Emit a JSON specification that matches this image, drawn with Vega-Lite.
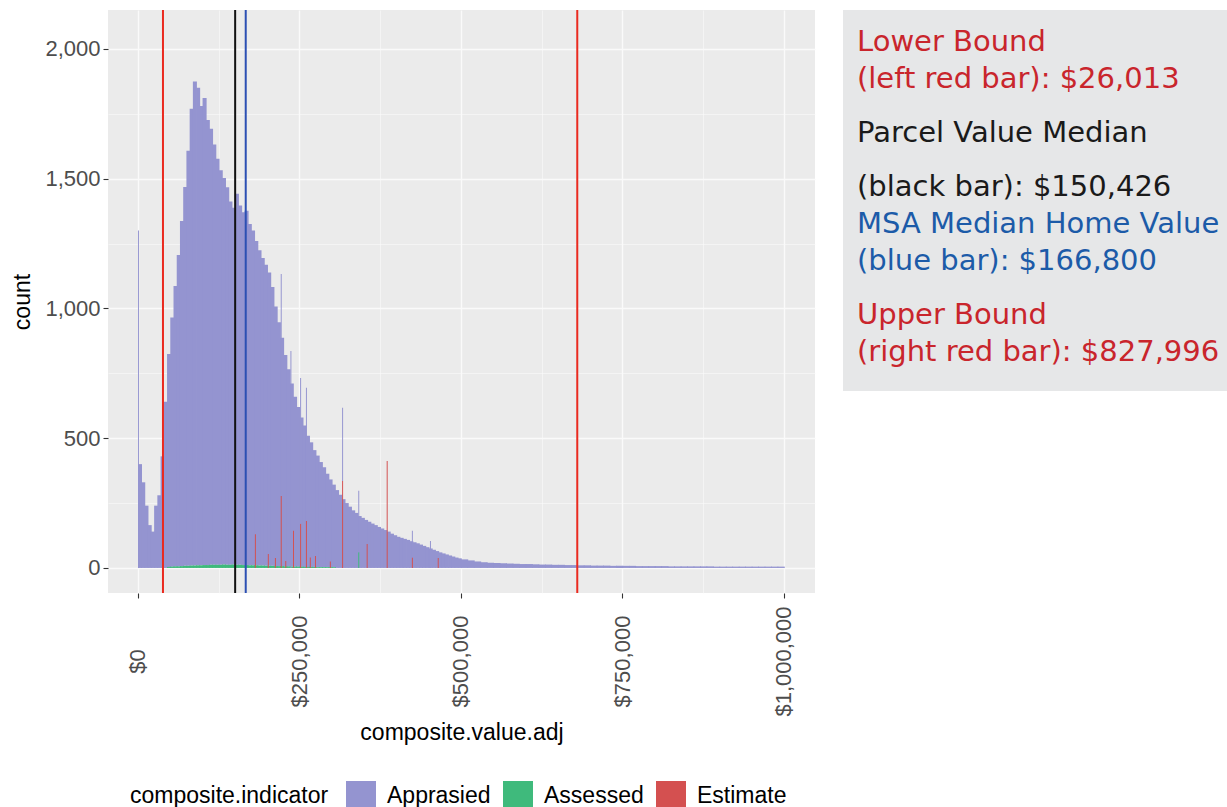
{
"$schema": "https://vega.github.io/schema/vega-lite/v6.json",
"padding": {"left": 11, "top": 9, "right": 0, "bottom": 0},
"background": "white",
"spacing": 28,
"config": {"font": "Liberation Sans", "view": {"stroke": null}},
"resolve": {"scale": {"color": "independent"}, "legend": {"color": "independent"}},
"datasets": {
"bins": [
{"indicator":"Apprasied","lo":0,"hi":5000,"count":400},{"indicator":"Apprasied","lo":5000,"hi":10000,"count":330},{"indicator":"Apprasied","lo":10000,"hi":15000,"count":240},{"indicator":"Apprasied","lo":15000,"hi":20000,"count":165},{"indicator":"Apprasied","lo":20000,"hi":25000,"count":140},{"indicator":"Apprasied","lo":25000,"hi":30000,"count":240},{"indicator":"Apprasied","lo":30000,"hi":35000,"count":280},{"indicator":"Apprasied","lo":35000,"hi":40000,"count":430},{"indicator":"Apprasied","lo":40000,"hi":45000,"count":640},{"indicator":"Apprasied","lo":45000,"hi":50000,"count":820},
{"indicator":"Apprasied","lo":50000,"hi":55000,"count":960},{"indicator":"Apprasied","lo":55000,"hi":60000,"count":1080},{"indicator":"Apprasied","lo":60000,"hi":65000,"count":1200},{"indicator":"Apprasied","lo":65000,"hi":70000,"count":1330},{"indicator":"Apprasied","lo":70000,"hi":75000,"count":1460},{"indicator":"Apprasied","lo":75000,"hi":80000,"count":1600},{"indicator":"Apprasied","lo":80000,"hi":85000,"count":1760},{"indicator":"Apprasied","lo":85000,"hi":90000,"count":1865},{"indicator":"Apprasied","lo":90000,"hi":95000,"count":1840},{"indicator":"Apprasied","lo":95000,"hi":100000,"count":1770},
{"indicator":"Apprasied","lo":100000,"hi":105000,"count":1800},{"indicator":"Apprasied","lo":105000,"hi":110000,"count":1715},{"indicator":"Apprasied","lo":110000,"hi":115000,"count":1680},{"indicator":"Apprasied","lo":115000,"hi":120000,"count":1620},{"indicator":"Apprasied","lo":120000,"hi":125000,"count":1565},{"indicator":"Apprasied","lo":125000,"hi":130000,"count":1520},{"indicator":"Apprasied","lo":130000,"hi":135000,"count":1490},{"indicator":"Apprasied","lo":135000,"hi":140000,"count":1455},{"indicator":"Apprasied","lo":140000,"hi":145000,"count":1400},{"indicator":"Apprasied","lo":145000,"hi":150000,"count":1375},
{"indicator":"Apprasied","lo":150000,"hi":155000,"count":1430},{"indicator":"Apprasied","lo":155000,"hi":160000,"count":1385},{"indicator":"Apprasied","lo":160000,"hi":165000,"count":1360},{"indicator":"Apprasied","lo":165000,"hi":170000,"count":1365},{"indicator":"Apprasied","lo":170000,"hi":175000,"count":1315},{"indicator":"Apprasied","lo":175000,"hi":180000,"count":1290},{"indicator":"Apprasied","lo":180000,"hi":185000,"count":1250},{"indicator":"Apprasied","lo":185000,"hi":190000,"count":1215},{"indicator":"Apprasied","lo":190000,"hi":195000,"count":1185},{"indicator":"Apprasied","lo":195000,"hi":200000,"count":1160},
{"indicator":"Apprasied","lo":200000,"hi":205000,"count":1130},{"indicator":"Apprasied","lo":205000,"hi":210000,"count":1075},{"indicator":"Apprasied","lo":210000,"hi":215000,"count":1000},{"indicator":"Apprasied","lo":215000,"hi":220000,"count":940},{"indicator":"Apprasied","lo":220000,"hi":225000,"count":880},{"indicator":"Apprasied","lo":225000,"hi":230000,"count":815},{"indicator":"Apprasied","lo":230000,"hi":235000,"count":760},{"indicator":"Apprasied","lo":235000,"hi":240000,"count":705},{"indicator":"Apprasied","lo":240000,"hi":245000,"count":655},{"indicator":"Apprasied","lo":245000,"hi":250000,"count":615},
{"indicator":"Apprasied","lo":250000,"hi":255000,"count":575},{"indicator":"Apprasied","lo":255000,"hi":260000,"count":545},{"indicator":"Apprasied","lo":260000,"hi":265000,"count":505},{"indicator":"Apprasied","lo":265000,"hi":270000,"count":480},{"indicator":"Apprasied","lo":270000,"hi":275000,"count":450},{"indicator":"Apprasied","lo":275000,"hi":280000,"count":430},{"indicator":"Apprasied","lo":280000,"hi":285000,"count":405},{"indicator":"Apprasied","lo":285000,"hi":290000,"count":385},{"indicator":"Apprasied","lo":290000,"hi":295000,"count":360},{"indicator":"Apprasied","lo":295000,"hi":300000,"count":338},
{"indicator":"Apprasied","lo":300000,"hi":305000,"count":318},{"indicator":"Apprasied","lo":305000,"hi":310000,"count":300},{"indicator":"Apprasied","lo":310000,"hi":315000,"count":282},{"indicator":"Apprasied","lo":315000,"hi":320000,"count":265},{"indicator":"Apprasied","lo":320000,"hi":325000,"count":250},{"indicator":"Apprasied","lo":325000,"hi":330000,"count":236},{"indicator":"Apprasied","lo":330000,"hi":335000,"count":222},{"indicator":"Apprasied","lo":335000,"hi":340000,"count":212},{"indicator":"Apprasied","lo":340000,"hi":345000,"count":200},{"indicator":"Apprasied","lo":345000,"hi":350000,"count":193},
{"indicator":"Apprasied","lo":350000,"hi":355000,"count":185},{"indicator":"Apprasied","lo":355000,"hi":360000,"count":178},{"indicator":"Apprasied","lo":360000,"hi":365000,"count":171},{"indicator":"Apprasied","lo":365000,"hi":370000,"count":165},{"indicator":"Apprasied","lo":370000,"hi":375000,"count":158},{"indicator":"Apprasied","lo":375000,"hi":380000,"count":152},{"indicator":"Apprasied","lo":380000,"hi":385000,"count":146},{"indicator":"Apprasied","lo":385000,"hi":390000,"count":140},{"indicator":"Apprasied","lo":390000,"hi":395000,"count":132},{"indicator":"Apprasied","lo":395000,"hi":400000,"count":126},
{"indicator":"Apprasied","lo":400000,"hi":405000,"count":120},{"indicator":"Apprasied","lo":405000,"hi":410000,"count":116},{"indicator":"Apprasied","lo":410000,"hi":415000,"count":112},{"indicator":"Apprasied","lo":415000,"hi":420000,"count":108},{"indicator":"Apprasied","lo":420000,"hi":425000,"count":103},{"indicator":"Apprasied","lo":425000,"hi":430000,"count":99},{"indicator":"Apprasied","lo":430000,"hi":435000,"count":95},{"indicator":"Apprasied","lo":435000,"hi":440000,"count":90},{"indicator":"Apprasied","lo":440000,"hi":445000,"count":85},{"indicator":"Apprasied","lo":445000,"hi":450000,"count":80},
{"indicator":"Apprasied","lo":450000,"hi":455000,"count":75},{"indicator":"Apprasied","lo":455000,"hi":460000,"count":70},{"indicator":"Apprasied","lo":460000,"hi":465000,"count":65},{"indicator":"Apprasied","lo":465000,"hi":470000,"count":60},{"indicator":"Apprasied","lo":470000,"hi":475000,"count":56},{"indicator":"Apprasied","lo":475000,"hi":480000,"count":52},{"indicator":"Apprasied","lo":480000,"hi":485000,"count":48},{"indicator":"Apprasied","lo":485000,"hi":490000,"count":44},{"indicator":"Apprasied","lo":490000,"hi":495000,"count":40},{"indicator":"Apprasied","lo":495000,"hi":500000,"count":37},
{"indicator":"Apprasied","lo":500000,"hi":510000,"count":33},{"indicator":"Apprasied","lo":510000,"hi":520000,"count":29},{"indicator":"Apprasied","lo":520000,"hi":530000,"count":25},{"indicator":"Apprasied","lo":530000,"hi":540000,"count":22},{"indicator":"Apprasied","lo":540000,"hi":550000,"count":20},{"indicator":"Apprasied","lo":550000,"hi":560000,"count":19},{"indicator":"Apprasied","lo":560000,"hi":570000,"count":18},{"indicator":"Apprasied","lo":570000,"hi":580000,"count":17},{"indicator":"Apprasied","lo":580000,"hi":590000,"count":16},{"indicator":"Apprasied","lo":590000,"hi":600000,"count":15},
{"indicator":"Apprasied","lo":600000,"hi":610000,"count":15},{"indicator":"Apprasied","lo":610000,"hi":620000,"count":14},{"indicator":"Apprasied","lo":620000,"hi":630000,"count":13},{"indicator":"Apprasied","lo":630000,"hi":640000,"count":13},{"indicator":"Apprasied","lo":640000,"hi":650000,"count":12},{"indicator":"Apprasied","lo":650000,"hi":660000,"count":12},{"indicator":"Apprasied","lo":660000,"hi":670000,"count":11},{"indicator":"Apprasied","lo":670000,"hi":680000,"count":11},{"indicator":"Apprasied","lo":680000,"hi":690000,"count":10},{"indicator":"Apprasied","lo":690000,"hi":700000,"count":10},
{"indicator":"Apprasied","lo":700000,"hi":710000,"count":9},{"indicator":"Apprasied","lo":710000,"hi":720000,"count":9},{"indicator":"Apprasied","lo":720000,"hi":730000,"count":9},{"indicator":"Apprasied","lo":730000,"hi":740000,"count":8},{"indicator":"Apprasied","lo":740000,"hi":750000,"count":8},{"indicator":"Apprasied","lo":750000,"hi":760000,"count":8},{"indicator":"Apprasied","lo":760000,"hi":770000,"count":8},{"indicator":"Apprasied","lo":770000,"hi":780000,"count":7},{"indicator":"Apprasied","lo":780000,"hi":790000,"count":7},{"indicator":"Apprasied","lo":790000,"hi":800000,"count":7},
{"indicator":"Apprasied","lo":800000,"hi":810000,"count":7},{"indicator":"Apprasied","lo":810000,"hi":820000,"count":7},{"indicator":"Apprasied","lo":820000,"hi":830000,"count":6},{"indicator":"Apprasied","lo":830000,"hi":840000,"count":6},{"indicator":"Apprasied","lo":840000,"hi":850000,"count":6},{"indicator":"Apprasied","lo":850000,"hi":860000,"count":6},{"indicator":"Apprasied","lo":860000,"hi":870000,"count":6},{"indicator":"Apprasied","lo":870000,"hi":880000,"count":6},{"indicator":"Apprasied","lo":880000,"hi":890000,"count":6},{"indicator":"Apprasied","lo":890000,"hi":900000,"count":5},
{"indicator":"Apprasied","lo":900000,"hi":910000,"count":5},{"indicator":"Apprasied","lo":910000,"hi":920000,"count":5},{"indicator":"Apprasied","lo":920000,"hi":930000,"count":5},{"indicator":"Apprasied","lo":930000,"hi":940000,"count":5},{"indicator":"Apprasied","lo":940000,"hi":950000,"count":5},{"indicator":"Apprasied","lo":950000,"hi":960000,"count":5},{"indicator":"Apprasied","lo":960000,"hi":970000,"count":5},{"indicator":"Apprasied","lo":970000,"hi":980000,"count":5},{"indicator":"Apprasied","lo":980000,"hi":990000,"count":5},{"indicator":"Apprasied","lo":990000,"hi":1000000,"count":5},
{"indicator":"Assessed","lo":45000,"hi":50000,"count":4},{"indicator":"Assessed","lo":50000,"hi":55000,"count":5},{"indicator":"Assessed","lo":55000,"hi":60000,"count":6},{"indicator":"Assessed","lo":60000,"hi":65000,"count":6},{"indicator":"Assessed","lo":65000,"hi":70000,"count":7},{"indicator":"Assessed","lo":70000,"hi":75000,"count":8},{"indicator":"Assessed","lo":75000,"hi":80000,"count":8},{"indicator":"Assessed","lo":80000,"hi":85000,"count":9},{"indicator":"Assessed","lo":85000,"hi":90000,"count":9},{"indicator":"Assessed","lo":90000,"hi":95000,"count":10},
{"indicator":"Assessed","lo":95000,"hi":100000,"count":10},{"indicator":"Assessed","lo":100000,"hi":105000,"count":11},{"indicator":"Assessed","lo":105000,"hi":110000,"count":11},{"indicator":"Assessed","lo":110000,"hi":115000,"count":12},{"indicator":"Assessed","lo":115000,"hi":120000,"count":12},{"indicator":"Assessed","lo":120000,"hi":125000,"count":12},{"indicator":"Assessed","lo":125000,"hi":130000,"count":12},{"indicator":"Assessed","lo":130000,"hi":135000,"count":13},{"indicator":"Assessed","lo":135000,"hi":140000,"count":12},{"indicator":"Assessed","lo":140000,"hi":145000,"count":12},
{"indicator":"Assessed","lo":145000,"hi":150000,"count":13},{"indicator":"Assessed","lo":150000,"hi":155000,"count":12},{"indicator":"Assessed","lo":155000,"hi":160000,"count":12},{"indicator":"Assessed","lo":160000,"hi":165000,"count":11},{"indicator":"Assessed","lo":165000,"hi":170000,"count":11},{"indicator":"Assessed","lo":170000,"hi":175000,"count":10},{"indicator":"Assessed","lo":175000,"hi":180000,"count":10},{"indicator":"Assessed","lo":180000,"hi":185000,"count":10},{"indicator":"Assessed","lo":185000,"hi":190000,"count":9},{"indicator":"Assessed","lo":190000,"hi":195000,"count":9},
{"indicator":"Assessed","lo":195000,"hi":200000,"count":8},{"indicator":"Assessed","lo":200000,"hi":205000,"count":8},{"indicator":"Assessed","lo":205000,"hi":210000,"count":8},{"indicator":"Assessed","lo":210000,"hi":215000,"count":7},{"indicator":"Assessed","lo":215000,"hi":220000,"count":7},{"indicator":"Assessed","lo":220000,"hi":225000,"count":7},{"indicator":"Assessed","lo":225000,"hi":230000,"count":6},{"indicator":"Assessed","lo":230000,"hi":235000,"count":6},{"indicator":"Assessed","lo":235000,"hi":240000,"count":6},{"indicator":"Assessed","lo":240000,"hi":245000,"count":5},
{"indicator":"Assessed","lo":245000,"hi":250000,"count":5},{"indicator":"Assessed","lo":250000,"hi":255000,"count":5},{"indicator":"Assessed","lo":255000,"hi":260000,"count":4},{"indicator":"Assessed","lo":260000,"hi":265000,"count":4},{"indicator":"Assessed","lo":265000,"hi":270000,"count":4},{"indicator":"Assessed","lo":270000,"hi":275000,"count":4},{"indicator":"Assessed","lo":275000,"hi":280000,"count":3},{"indicator":"Assessed","lo":280000,"hi":285000,"count":3},{"indicator":"Assessed","lo":285000,"hi":290000,"count":3},{"indicator":"Assessed","lo":290000,"hi":295000,"count":3},
{"indicator":"Assessed","lo":295000,"hi":300000,"count":3},{"indicator":"Assessed","lo":300000,"hi":305000,"count":3}
],
"spikes": [
{"indicator":"Apprasied","lo":0,"hi":1500,"count":1300},
{"indicator":"Estimate","lo":181000,"hi":182500,"count":130},
{"indicator":"Estimate","lo":201000,"hi":202500,"count":54},
{"indicator":"Estimate","lo":212000,"hi":213500,"count":38},
{"indicator":"Estimate","lo":221000,"hi":222500,"count":277},
{"indicator":"Apprasied","lo":221000,"hi":222500,"count":856},
{"indicator":"Estimate","lo":228000,"hi":229500,"count":27},
{"indicator":"Apprasied","lo":236000,"hi":237500,"count":836},
{"indicator":"Estimate","lo":240000,"hi":241500,"count":143},
{"indicator":"Estimate","lo":251000,"hi":252500,"count":170},
{"indicator":"Apprasied","lo":251000,"hi":252500,"count":562},
{"indicator":"Estimate","lo":260000,"hi":261500,"count":181},
{"indicator":"Apprasied","lo":260000,"hi":261500,"count":513},
{"indicator":"Estimate","lo":266000,"hi":267500,"count":40},
{"indicator":"Estimate","lo":274000,"hi":275500,"count":46},
{"indicator":"Estimate","lo":297000,"hi":298500,"count":25},
{"indicator":"Estimate","lo":316000,"hi":317500,"count":335},
{"indicator":"Apprasied","lo":316000,"hi":317500,"count":282},
{"indicator":"Assessed","lo":341000,"hi":342500,"count":60},
{"indicator":"Apprasied","lo":341000,"hi":342500,"count":237},
{"indicator":"Estimate","lo":354000,"hi":355500,"count":92},
{"indicator":"Estimate","lo":385000,"hi":386500,"count":412},
{"indicator":"Estimate","lo":424000,"hi":425500,"count":40},
{"indicator":"Apprasied","lo":424000,"hi":425500,"count":103},
{"indicator":"Apprasied","lo":452000,"hi":453500,"count":104},
{"indicator":"Estimate","lo":464000,"hi":465500,"count":38}
],
"refs": [
{"bar":"left red bar","value":38700},
{"bar":"black bar","value":150426},
{"bar":"blue bar","value":166800},
{"bar":"right red bar","value":680000}
],
"notes": [
{"line":0,"para":0,"ref":"lower","text":"Lower Bound"},
{"line":1,"para":0,"ref":"lower","text":"(left red bar): $26,013"},
{"line":2,"para":1,"ref":"median","text":"Parcel Value Median"},
{"line":3,"para":2,"ref":"median","text":"(black bar): $150,426"},
{"line":4,"para":2,"ref":"msa","text":"MSA Median Home Value"},
{"line":5,"para":2,"ref":"msa","text":"(blue bar): $166,800"},
{"line":6,"para":3,"ref":"upper","text":"Upper Bound"},
{"line":7,"para":3,"ref":"upper","text":"(right red bar): $827,996"}
]
},
"hconcat": [
{
"width": 707,
"height": 583,
"view": {"fill": "#ebebeb", "stroke": null},
"resolve": {"axis": {"x": "independent", "y": "independent"}},
"layer": [
{
"data": {"name": "bins"},
"mark": {"type": "bar", "orient": "vertical", "x2Offset": 0.8},
"encoding": {
"x": {"field": "lo", "type": "quantitative",
 "scale": {"domain": [-46400, 1048000], "nice": false, "zero": false, "padding": 0},
 "axis": {"title": "composite.value.adj", "values": [0, 250000, 500000, 750000, 1000000], "format": "$,.0f",
  "labelAngle": -90, "labelAlign": "center", "labelBaseline": "middle", "labelPadding": 63, "labelOverlap": false, "labelFlush": false,
  "labelFontSize": 22, "labelColor": "#4d4d4d", "labelFont": "Liberation Sans",
  "titleFontSize": 23, "titleFontWeight": "normal", "titleColor": "#000000", "titleFont": "Liberation Sans", "titlePadding": 5,
  "tickSize": 5, "tickColor": "#333333", "tickWidth": 1.1, "domain": false,
  "grid": true, "gridColor": "#fafafa", "gridWidth": 1.3}},
"x2": {"field": "hi"},
"y": {"field": "count", "type": "quantitative", "stack": "zero",
 "scale": {"domain": [-96.6, 2150], "nice": false, "zero": false, "padding": 0},
 "axis": {"title": "count", "values": [0, 500, 1000, 1500, 2000], "format": ",d",
  "labelFontSize": 22, "labelColor": "#4d4d4d", "labelFont": "Liberation Sans", "labelPadding": 3,
  "titleFontSize": 23, "titleFontWeight": "normal", "titleColor": "#000000", "titleFont": "Liberation Sans", "titlePadding": 10,
  "tickSize": 5, "tickColor": "#333333", "tickWidth": 1.1, "domain": false,
  "grid": true, "gridColor": "#fafafa", "gridWidth": 1.3}},
"color": {"field": "indicator", "type": "nominal",
 "scale": {"domain": ["Apprasied", "Assessed", "Estimate"], "range": ["#9494d0", "#3fba7c", "#d45050"]},
 "legend": {"title": "composite.indicator", "orient": "none", "legendX": 22, "legendY": 771, "direction": "horizontal", "titleOrient": "left",
  "symbolType": "square", "symbolSize": 900, "symbolStrokeWidth": 0, "symbolOpacity": 1,
  "labelFontSize": 23, "labelFont": "Liberation Sans", "labelColor": "#000000", "labelOffset": 11, "labelLimit": 300,
  "titleFontSize": 23, "titleFont": "Liberation Sans", "titleFontWeight": "normal", "titleColor": "#000000", "titlePadding": 17, "titleBaseline": "middle", "titleLimit": 400,
  "columnPadding": 12}},
"order": {"field": "indicator", "sort": "descending"}
}
},
{
"data": {"name": "spikes"},
"mark": {"type": "bar", "orient": "vertical"},
"encoding": {
"x": {"field": "lo", "type": "quantitative",
 "axis": {"orient": "top", "values": [125000, 375000, 625000, 875000], "labels": false, "ticks": false, "domain": false, "title": null,
  "grid": true, "gridColor": "#fafafa", "gridWidth": 0.6}},
"x2": {"field": "hi"},
"y": {"field": "count", "type": "quantitative", "stack": "zero",
 "axis": {"orient": "right", "values": [250, 750, 1250, 1750], "labels": false, "ticks": false, "domain": false, "title": null,
  "grid": true, "gridColor": "#fafafa", "gridWidth": 0.6}},
"color": {"field": "indicator", "type": "nominal"},
"order": {"field": "indicator", "sort": "descending"}
}
},
{
"data": {"name": "refs"},
"mark": {"type": "rule", "strokeWidth": 2},
"encoding": {
"x": {"field": "value", "type": "quantitative", "axis": null},
"stroke": {"field": "bar", "type": "nominal",
 "scale": {"domain": ["left red bar", "black bar", "blue bar", "right red bar"], "range": ["#ea2a1f", "#111111", "#2b4fb3", "#ea2a1f"]},
 "legend": null}
}
}
]
},
{
"width": 384,
"height": 381,
"view": {"fill": "#e6e7e8", "stroke": null},
"data": {"name": "notes"},
"encoding": {
"x": {"datum": 0, "type": "quantitative", "scale": {"domain": [0, 1]}, "axis": null},
"y": {"field": "line", "type": "quantitative", "scale": {"domain": [-1.108, 9.189], "reverse": true, "nice": false, "zero": false}, "axis": null},
"text": {"field": "text"},
"color": {"field": "ref", "type": "nominal",
 "scale": {"domain": ["lower", "median", "msa", "upper"], "range": ["#c9252c", "#1a1a1a", "#1c5ba8", "#c9252c"]},
 "legend": null}
},
"layer": [
{"transform": [{"filter": "datum.para == 0"}], "mark": {"type": "text", "align": "left", "baseline": "alphabetic", "font": "DejaVu Sans", "fontSize": 29, "dx": 14, "dy": 0}},
{"transform": [{"filter": "datum.para == 1"}], "mark": {"type": "text", "align": "left", "baseline": "alphabetic", "font": "DejaVu Sans", "fontSize": 29, "dx": 14, "dy": 17}},
{"transform": [{"filter": "datum.para == 2"}], "mark": {"type": "text", "align": "left", "baseline": "alphabetic", "font": "DejaVu Sans", "fontSize": 29, "dx": 14, "dy": 34}},
{"transform": [{"filter": "datum.para == 3"}], "mark": {"type": "text", "align": "left", "baseline": "alphabetic", "font": "DejaVu Sans", "fontSize": 29, "dx": 14, "dy": 51}}
]
}
]
}
